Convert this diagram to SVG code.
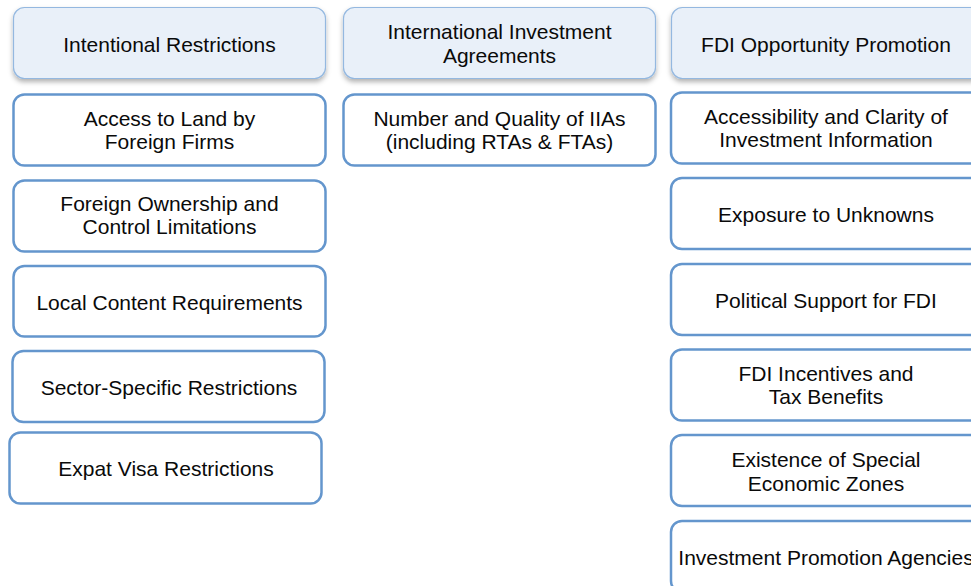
<svg xmlns="http://www.w3.org/2000/svg" width="971" height="586" viewBox="0 0 971 586">
<defs>
<filter id="sh" x="-10%" y="-20%" width="120%" height="150%">
<feDropShadow dx="0" dy="3" stdDeviation="2.5" flood-color="#000" flood-opacity="0.3"/>
</filter>
<style>
.hd{fill:#e9f0f9;stroke:#94b8e0;stroke-width:1.2;filter:url(#sh)}
.bx{fill:#fff;stroke:#6496cd;stroke-width:2.5}
text{font-family:"Liberation Sans",Arial,sans-serif;font-size:21px;fill:#0a0a0a;text-anchor:middle}
</style>
</defs>
<rect width="971" height="586" fill="#fff"/>
<g id="connectors"></g>
<g id="h1"><rect class="hd" x="13.5" y="7.5" width="312" height="71" rx="11"/><text x="169.5" y="51.5">Intentional Restrictions</text></g>
<g id="h2"><rect class="hd" x="343.5" y="7.5" width="312" height="71" rx="11"/><text x="499.5" y="39">International Investment</text><text x="499.5" y="62.5">Agreements</text></g>
<g id="h3"><rect class="hd" x="671.5" y="7.5" width="312" height="71" rx="11"/><text x="826" y="51.5">FDI Opportunity Promotion</text></g>

<g id="l1"><rect class="bx" x="13.5" y="94.5" width="312" height="71" rx="11"/><text x="169.5" y="126">Access to Land by</text><text x="169.5" y="149">Foreign Firms</text></g>
<g id="l2"><rect class="bx" x="13.5" y="180.5" width="312" height="71" rx="11"/><text x="169.5" y="210.5">Foreign Ownership and</text><text x="169.5" y="234">Control Limitations</text></g>
<g id="l3"><rect class="bx" x="13.5" y="266" width="312" height="70.5" rx="11"/><text x="169.5" y="310">Local Content Requirements</text></g>
<g id="l4"><rect class="bx" x="12.5" y="351" width="312" height="71" rx="11"/><text x="169" y="394.5">Sector-Specific Restrictions</text></g>
<g id="l5"><rect class="bx" x="9.5" y="432.5" width="312" height="71" rx="11"/><text x="166" y="476">Expat Visa Restrictions</text></g>

<g id="m1"><rect class="bx" x="343.5" y="94.5" width="312" height="71" rx="11"/><text x="499.5" y="126">Number and Quality of IIAs</text><text x="499.5" y="149">(including RTAs &amp; FTAs)</text></g>

<g id="r1"><rect class="bx" x="671" y="92.5" width="312" height="71" rx="11"/><text x="826" y="123.5">Accessibility and Clarity of</text><text x="826" y="147">Investment Information</text></g>
<g id="r2"><rect class="bx" x="671" y="178" width="312" height="71" rx="11"/><text x="826" y="222">Exposure to Unknowns</text></g>
<g id="r3"><rect class="bx" x="671" y="264" width="312" height="71" rx="11"/><text x="826" y="308">Political Support for FDI</text></g>
<g id="r4"><rect class="bx" x="671" y="349.5" width="312" height="71" rx="11"/><text x="826" y="381">FDI Incentives and</text><text x="826" y="404">Tax Benefits</text></g>
<g id="r5"><rect class="bx" x="671" y="435" width="312" height="71" rx="11"/><text x="826" y="466.5">Existence of Special</text><text x="826" y="490.5">Economic Zones</text></g>
<g id="r6"><rect class="bx" x="671" y="521" width="312" height="71" rx="11"/><text x="826" y="565">Investment Promotion Agencies</text></g>
</svg>
